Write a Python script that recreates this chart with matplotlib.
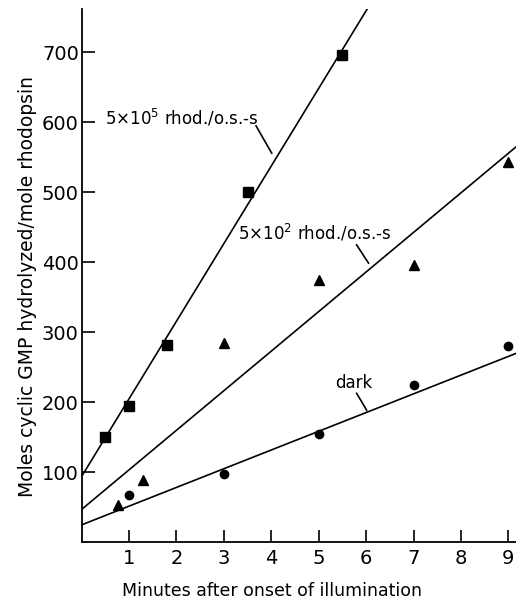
import numpy as np
import matplotlib.pyplot as plt

# data
sq_x = [0.5, 1.0, 1.8, 3.5, 5.5]
sq_y = [150, 195, 282, 500, 696]
tri_x = [0.77, 1.3, 3.0, 5.0, 7.0, 9.0]
tri_y = [53, 89, 285, 375, 397, 544]
dot_x = [1.0, 3.0, 5.0, 7.0, 9.0]
dot_y = [68, 98, 155, 225, 280]

# fitted lines: value at x=0 and at x=9.16
fit_x = [0.0, 9.16]
fit_sq = [94, 1110]
fit_tri = [47, 565]
fit_dot = [25, 270]

xticks = [1, 2, 3, 4, 5, 6, 7, 8, 9]
yticks = [100, 200, 300, 400, 500, 600, 700]

fig = plt.figure(figsize=(5.16, 6.0), dpi=100)
ax = fig.add_axes([0.158, 0.096, 0.842, 0.889])
ax.set_xlim(0, 9.16)
ax.set_ylim(0, 762)

for fy in (fit_sq, fit_tri, fit_dot):
    ax.plot(fit_x, fy, color='black', lw=1.2)

ax.plot(sq_x, sq_y, 's', color='black', ms=6.5, clip_on=False)
ax.plot(tri_x, tri_y, '^', color='black', ms=7, clip_on=False)
ax.plot(dot_x, dot_y, 'o', color='black', ms=6, clip_on=False)

fs = 12
ax.text(0.49, 606, r'5$\times$10$^{5}$ rhod./o.s.-s', fontsize=fs, va='center', ha='left')
ax.plot([3.68, 4.01], [595, 556], color='black', lw=1.2)
ax.text(3.30, 442, r'5$\times$10$^{2}$ rhod./o.s.-s', fontsize=fs, va='center', ha='left')
ax.plot([5.80, 6.05], [425, 399], color='black', lw=1.2)
ax.text(5.34, 228, 'dark', fontsize=fs, va='center', ha='left')
ax.plot([5.80, 6.01], [213, 189], color='black', lw=1.2)

ax.spines['top'].set_visible(False)
ax.spines['right'].set_visible(False)
ax.spines['left'].set_linewidth(1.3)
ax.spines['bottom'].set_linewidth(1.3)
ax.set_xticks(xticks)
ax.set_yticks(yticks)
ax.tick_params(direction='in', length=9, width=1.2, labelsize=14)
ax.tick_params(axis='x', pad=5)
ax.tick_params(axis='y', pad=2)

ax.set_xlabel('Minutes after onset of illumination', fontsize=12.5)
ax.xaxis.set_label_coords(0.5 * (430 + 115) / 516 / 0.842 - 0.158 / 0.842, -0.075)
ax.set_ylabel('Moles cyclic GMP hydrolyzed/mole rhodopsin', fontsize=13.5)
ax.yaxis.set_label_coords(-0.103, 0.479)

fig.savefig('out.png', dpi=100)
